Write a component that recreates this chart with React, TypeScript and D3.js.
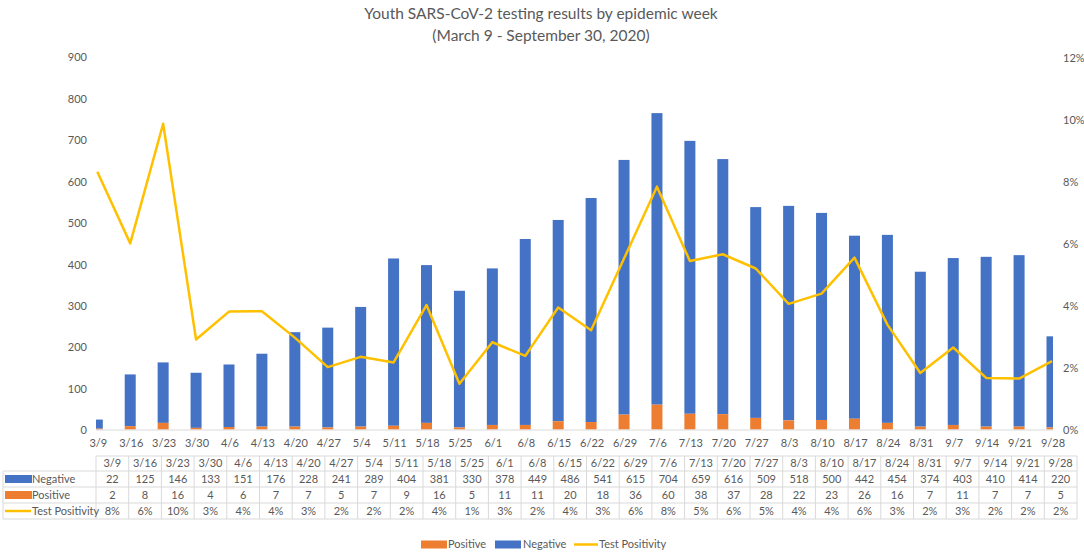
import React from "react";
import * as d3 from "d3";

const weeks = ["3/9","3/16","3/23","3/30","4/6","4/13","4/20","4/27","5/4","5/11","5/18","5/25","6/1","6/8","6/15","6/22","6/29","7/6","7/13","7/20","7/27","8/3","8/10","8/17","8/24","8/31","9/7","9/14","9/21","9/28"];
const negative = [22,125,146,133,151,176,228,241,289,404,381,330,378,449,486,541,615,704,659,616,509,518,500,442,454,374,403,410,414,220];
const positive = [2,8,16,4,6,7,7,5,7,9,16,5,11,11,20,18,36,60,38,37,28,22,23,26,16,7,11,7,7,5];
const positivity = [8.33,6.02,9.88,2.92,3.82,3.83,2.98,2.03,2.36,2.18,4.03,1.49,2.83,2.39,3.95,3.22,5.53,7.85,5.45,5.67,5.21,4.07,4.40,5.56,3.40,1.84,2.66,1.68,1.66,2.22];
const leftTicks = [0,100,200,300,400,500,600,700,800,900];
const rightTicks = [0,2,4,6,8,10,12];

const BLUE = "#4472C4";
const ORANGE = "#ED7D31";
const YELLOW = "#FFC000";
const TEXT = "#595959";
const GRID = "#d9d9d9";
const FONT = "Lato, 'Open Sans', sans-serif";

export default function App() {
  const W = 1084, H = 555;
  const x = d3.scalePoint<string>().domain(weeks).range([97.3, 1052]);
  const yL = d3.scaleLinear().domain([0, 900]).range([429.5, 56.8]);
  const yR = d3.scaleLinear().domain([0, 12]).range([430, 58]);
  const xT = d3.scaleBand<string>().domain(weeks).range([96, 1077]);
  const barW = 11;
  const line = d3.line<number>()
    .x((_, i) => x(weeks[i]) as number)
    .y((d) => yR(d));

  const rowY = [456, 471, 487, 503, 519];
  const rows = [
    { label: "Negative", vals: negative.map(String), key: "bar", color: BLUE },
    { label: "Positive", vals: positive.map(String), key: "bar", color: ORANGE },
    { label: "Test Positivity", vals: positivity.map((v) => Math.round(v) + "%"), key: "line", color: YELLOW },
  ];

  return (
    <div style={{ position: "fixed", left: 0, top: 0, width: W, height: H, background: "#fff" }}>
      <svg width={W} height={H} style={{ display: "block", fontFamily: FONT }}>
        <defs>
          <clipPath id="plotClip">
            <rect x={96} y={40} width={1053 - 96} height={400} />
          </clipPath>
        </defs>
        <text x={541} y={19} textAnchor="middle" fontSize={15.5} fill={TEXT}>
          Youth SARS-CoV-2 testing results by epidemic week
        </text>
        <text x={541} y={41} textAnchor="middle" fontSize={15.5} fill={TEXT}>
          (March 9 - September 30, 2020)
        </text>

        {leftTicks.map((t) => (
          <text key={"l" + t} x={87} y={yL(t) + 0.8} dy="0.35em" textAnchor="end" fontSize={11} fill={TEXT}>{t}</text>
        ))}
        {rightTicks.map((t) => (
          <text key={"r" + t} x={1063} y={yR(t)} dy="0.35em" textAnchor="start" fontSize={11} fill={TEXT}>{t}%</text>
        ))}

        <g clipPath="url(#plotClip)">
          {weeks.map((w, i) => {
            const cx = x(w) as number;
            return (
              <g key={w}>
                <rect x={cx - barW / 2} y={yL(positive[i] + negative[i])} width={barW}
                  height={yL(positive[i]) - yL(positive[i] + negative[i])} fill={BLUE} />
                <rect x={cx - barW / 2} y={yL(positive[i])} width={barW}
                  height={yL(0) - yL(positive[i])} fill={ORANGE} />
              </g>
            );
          })}
        </g>
        <line x1={96} x2={1053} y1={430} y2={430} stroke={GRID} strokeWidth={1} />

        <path d={line(positivity) || ""} fill="none" stroke={YELLOW} strokeWidth={2.5} strokeLinejoin="round" />

        {weeks.map((w) => (
          <text key={"c" + w} x={(x(w) as number) + 1} y={443} dy="0.35em" textAnchor="middle" fontSize={11} fill={TEXT}>{w}</text>
        ))}

        {/* data table */}
        <g stroke={GRID} strokeWidth={1} fill="none">
          <line x1={96} x2={1077} y1={rowY[0]} y2={rowY[0]} />
          {rowY.slice(1).map((y) => (
            <line key={"h" + y} x1={3} x2={1077} y1={y} y2={y} />
          ))}
          <line x1={3} x2={3} y1={rowY[1]} y2={rowY[4]} />
          {weeks.map((w) => (
            <line key={"v" + w} x1={xT(w) as number} x2={xT(w) as number} y1={rowY[0]} y2={rowY[4]} />
          ))}
          <line x1={1077} x2={1077} y1={rowY[0]} y2={rowY[4]} />
        </g>
        {weeks.map((w) => (
          <text key={"th" + w} x={(xT(w) as number) + xT.bandwidth() / 2} y={(rowY[0] + rowY[1]) / 2} dy="0.35em"
            textAnchor="middle" fontSize={11} fill={TEXT}>{w}</text>
        ))}
        {rows.map((r, ri) => {
          const yc = (rowY[ri + 1] + rowY[ri + 2]) / 2;
          return (
            <g key={r.label}>
              {r.key === "bar" ? (
                <rect x={5} y={yc - 4} width={27} height={8} fill={r.color} />
              ) : (
                <line x1={5} x2={31} y1={yc} y2={yc} stroke={r.color} strokeWidth={2.5} />
              )}
              <text x={32} y={yc} dy="0.35em" fontSize={11} fill={TEXT}>{r.label}</text>
              {r.vals.map((v, i) => (
                <text key={i} x={(xT(weeks[i]) as number) + xT.bandwidth() / 2} y={yc} dy="0.35em"
                  textAnchor="middle" fontSize={11} fill={TEXT}>{v}</text>
              ))}
            </g>
          );
        })}

        {/* legend */}
        <rect x={421} y={540.5} width={26} height={8} fill={ORANGE} />
        <text x={448} y={544.5} dy="0.35em" fontSize={11} fill={TEXT}>Positive</text>
        <rect x={495} y={540.5} width={26} height={8} fill={BLUE} />
        <text x={523} y={544.5} dy="0.35em" fontSize={11} fill={TEXT}>Negative</text>
        <line x1={574} x2={598} y1={544.5} y2={544.5} stroke={YELLOW} strokeWidth={2.5} />
        <text x={599} y={544.5} dy="0.35em" fontSize={11} fill={TEXT}>Test Positivity</text>
      </svg>
    </div>
  );
}
